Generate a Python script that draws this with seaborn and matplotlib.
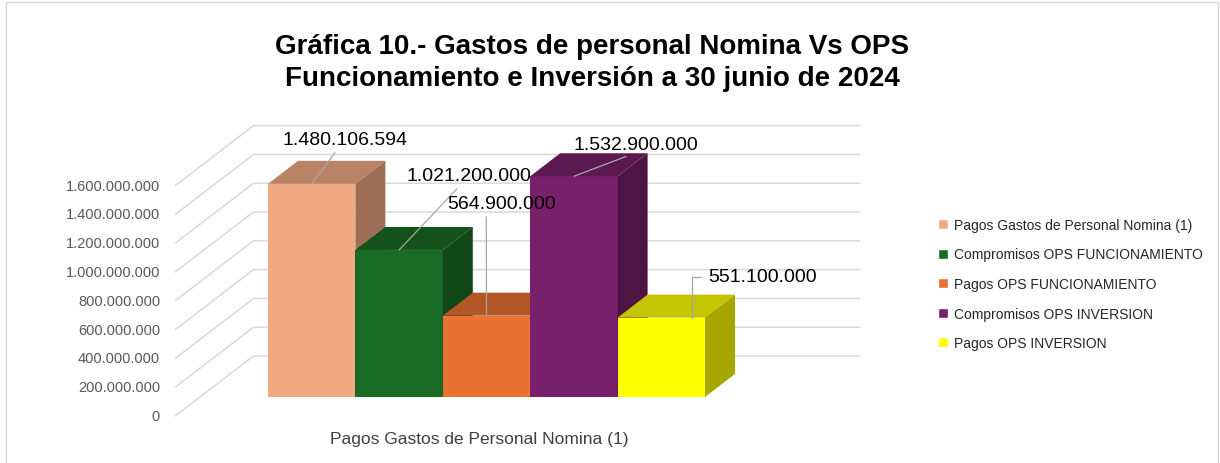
import matplotlib
matplotlib.use("Agg")
import matplotlib.pyplot as plt
from matplotlib.patches import Polygon, Rectangle
from matplotlib.transforms import offset_copy
import numpy as np
import pandas as pd
import seaborn as sns

# --- datos ---
categoria = "Pagos Gastos de Personal Nomina (1)"
series = ["Pagos Gastos de Personal Nomina (1)",
          "Compromisos OPS FUNCIONAMIENTO",
          "Pagos OPS FUNCIONAMIENTO",
          "Compromisos OPS INVERSION",
          "Pagos OPS INVERSION"]
valores = [1480106594, 1021200000, 564900000, 1532900000, 551100000]
colores = ["#F2AA84", "#1A6B25", "#E97132", "#782069", "#FFFF00"]
ticks_y = [0, 200e6, 400e6, 600e6, 800e6, 1000e6, 1200e6, 1400e6, 1600e6]
titulo = "Gráfica 10.- Gastos de personal Nomina Vs OPS\nFuncionamiento e Inversión a 30 junio de 2024"

df = pd.DataFrame({"categoria": [categoria] * len(series), "serie": series, "valor": valores})

def fmt(v):
    return f"{v:,.0f}".replace(",", ".")

sns.set_style("white")
plt.rcParams['font.family'] = ['Liberation Sans', 'DejaVu Sans']

W, H = 1220, 464
fig = plt.figure(figsize=(W / 100, H / 100), dpi=100)
# axes placed in pixel units
ax_l, ax_r, ax_t, ax_b = 150, 900, 100, 425
ax = fig.add_axes([ax_l / W, 1 - ax_b / H, (ax_r - ax_l) / W, (ax_b - ax_t) / H])

g = sns.barplot(data=df, x="categoria", y="valor", hue="serie", hue_order=series,
                palette=colores, width=1.0, saturation=1, errorbar=None, ax=ax)

# pixel scale of the front plane
px_x = 437.0            # pixels per category unit
px_y = 144.0 / 1e9      # pixels per value unit
cx, zy = 486.5, 398     # category centre / zero line in pixels
ax.set_xlim((ax_l - cx) / px_x, (ax_r - cx) / px_x)
ax.set_ylim((zy - ax_b) / px_y, (zy - ax_t) / px_y)

# oblique depth vector (one bar depth)
ddx = 30 / px_x
ddy = 23 / px_y
d_front, d_back = -0.83, 1.78
x_wall_l = (200 - cx) / px_x
x_wall_r = (807 - cx) / px_x

grid_c = "#D9D9D9"
for v in ticks_y:
    xa, ya = x_wall_l + d_front * ddx, v + d_front * ddy
    xb, yb = x_wall_l + d_back * ddx, v + d_back * ddy
    xc = x_wall_r + d_back * ddx
    ax.plot([xa, xb, xc], [ya, yb, yb], color=grid_c, lw=1.1, zorder=0.5,
            solid_capstyle="butt")
    ax.text(xa, ya, fmt(v), transform=offset_copy(ax.transData, fig, x=-15, y=0, units="dots"),
            ha="right", va="center", fontsize=10.5, color="#595959")

def shade(c, f):
    r = np.array(matplotlib.colors.to_rgb(c)) * f
    return tuple(r)

bars = [c.patches[0] for c in ax.containers]
# label layout: anchor fraction along the bar top, text offset (px), leader start on text box
anchor_f = [0.5, 0.5, 0.5, 0.5, 0.85]
label_off = [(33, 44), (70, 74), (15, 112), (62, 32), (71, 41)]
rel_pos = [(0.5, 0.5), (0.5, 0.5), (0.36, 0.0), (0.5, 0.0), (0.0, 0.5)]
for i, p in enumerate(bars):
    z = 2 + i
    x0, w, h = p.get_x(), p.get_width(), p.get_height()
    col = colores[i]
    p.set_zorder(z)
    p.set_edgecolor("none")
    top = [(x0, h), (x0 + w, h), (x0 + w + ddx, h + ddy), (x0 + ddx, h + ddy)]
    side = [(x0 + w, 0), (x0 + w, h), (x0 + w + ddx, h + ddy), (x0 + w + ddx, ddy)]
    ax.add_patch(Polygon(top, closed=True, facecolor=shade(col, 0.77), edgecolor="none", zorder=z))
    ax.add_patch(Polygon(side, closed=True, facecolor=shade(col, 0.65), edgecolor="none", zorder=z))
    conn = "angle,angleA=0,angleB=90,rad=0" if i == 4 else "arc3"
    ax.annotate(fmt(valores[i]), xy=(x0 + w * anchor_f[i], h), xytext=label_off[i],
                textcoords="offset pixels", ha="center", va="center",
                fontsize=14, color="black", zorder=20,
                arrowprops=dict(arrowstyle="-", color="#A6A6A6", lw=0.9,
                                shrinkA=1 if i != 4 else 3, shrinkB=0,
                                relpos=rel_pos[i], connectionstyle=conn))

ax.set_xlabel("")
ax.set_ylabel("")
ax.set_yticks([])
xt = ax.get_xticks()[0]
ax.set_xticks([])
ax.text(xt, ax.get_ylim()[0], categoria,
        transform=offset_copy(ax.transData, fig, x=-7, y=-15, units="dots"),
        ha="center", va="center", fontsize=12.5, color="#404040")
for s in ax.spines.values():
    s.set_visible(False)

sns.move_legend(ax, "center left", bbox_to_anchor=(925 / W, 1 - 285 / H),
                bbox_transform=fig.transFigure, frameon=False, title=None,
                handlelength=0.75, handleheight=0.75, handletextpad=0.45,
                labelspacing=1.12,
                prop={"family": ["Liberation Sans Narrow", "Liberation Sans"], "size": 10})
for t in ax.get_legend().get_texts():
    t.set_color("#262626")

fig.text(592 / W, 1 - 63 / H, titulo, ha="center", va="center", fontsize=20,
         weight="bold", color="black",
         family=["Liberation Sans Narrow", "Liberation Sans"],
         linespacing=1.35)

fig.patches.append(Rectangle((0.005, -0.01), 0.993, 1.004, transform=fig.transFigure,
                             fill=False, edgecolor="#D9D9D9", lw=1))

fig.savefig("out.png", dpi=100)
